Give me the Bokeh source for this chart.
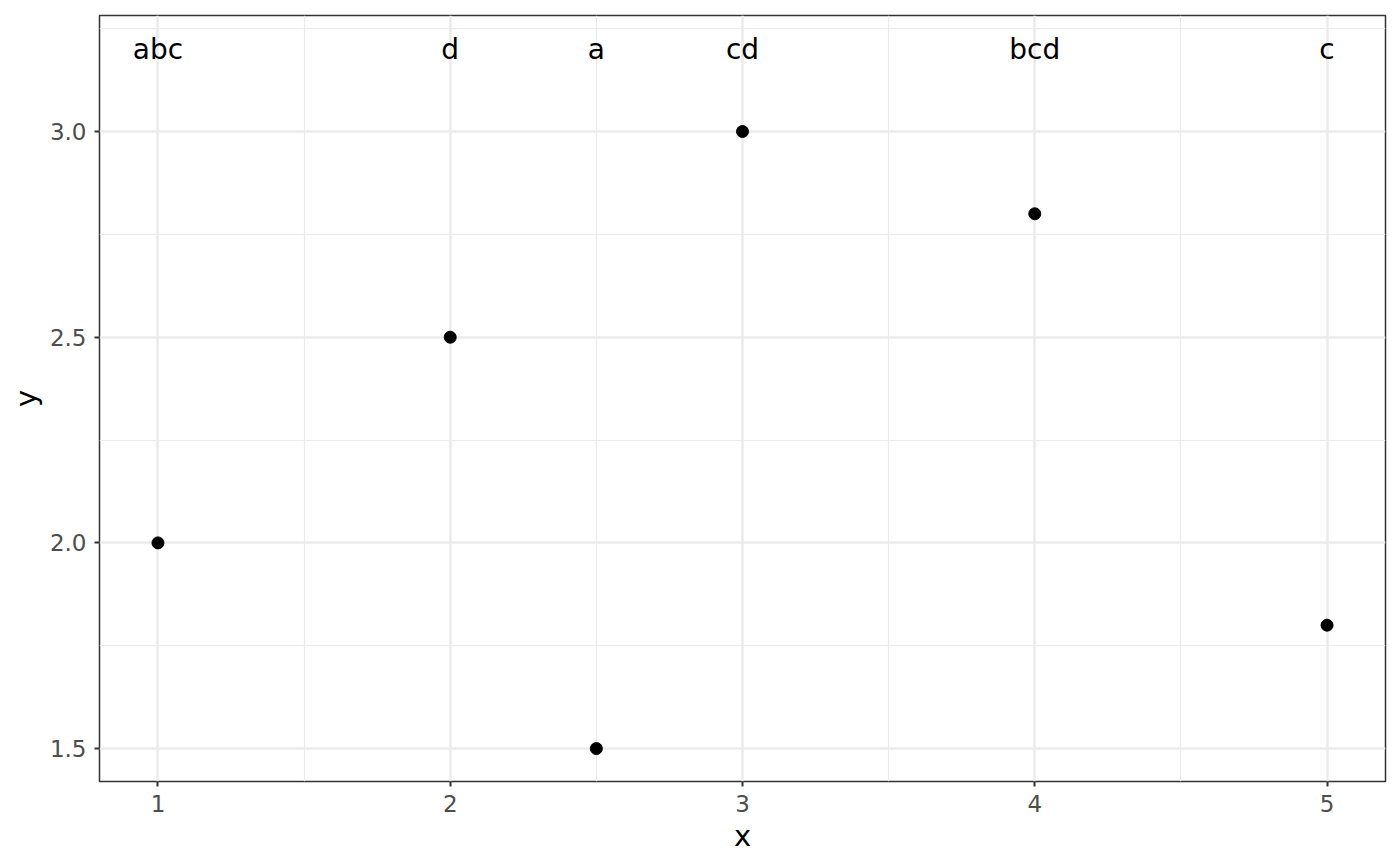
from bokeh.core.properties import value
from bokeh.embed import file_html
from bokeh.models import ColumnDataSource, FixedTicker, Range1d
from bokeh.plotting import figure
from bokeh.resources import INLINE


# data
x_values = [1, 2, 2.5, 3, 4, 5]
y_values = [2.0, 2.5, 1.5, 3.0, 2.8, 1.8]
group_labels = ["abc", "d", "a", "cd", "bcd", "c"]
label_y = 3.2

x_ticks = [1, 2, 3, 4, 5]
x_minor = [1.5, 2.5, 3.5, 4.5]
y_ticks = [1.5, 2.0, 2.5, 3.0]
y_minor = [1.75, 2.25, 2.75, 3.25]
y_tick_labels = {1.5: "1.5", 2.0: "2.0", 2.5: "2.5", 3.0: "3.0"}

FONT = "DejaVu Sans"
GRID = "#ebebeb"

points = ColumnDataSource(data=dict(x=x_values, y=y_values))
labels = ColumnDataSource(data=dict(x=x_values, y=[label_y] * len(x_values), text=group_labels))

# declare bokeh figure (ggplot theme_bw look)
p = figure(
    frame_width=1286,
    frame_height=766,
    min_border_left=99,
    min_border_right=7,
    min_border_top=15,
    min_border_bottom=77,
    x_range=Range1d(0.8, 5.2),
    y_range=Range1d(1.42, 3.282),
    x_axis_label="x",
    y_axis_label="y",
    output_backend="svg",
    toolbar_location=None,
    background_fill_color="white",
    border_fill_color="white",
)

p.outline_line_color = "#333333"
p.outline_line_width = 1.5

# ticks and grid
p.xaxis.ticker = FixedTicker(ticks=x_ticks, minor_ticks=x_minor)
p.yaxis.ticker = FixedTicker(ticks=y_ticks, minor_ticks=y_minor)
p.yaxis.major_label_overrides = y_tick_labels

for grid in (p.xgrid, p.ygrid):
    grid.grid_line_color = GRID
    grid.grid_line_width = 2.5
    grid.minor_grid_line_color = GRID
    grid.minor_grid_line_width = 1.2

for axis in (p.xaxis, p.yaxis):
    axis.axis_line_color = None
    axis.minor_tick_line_color = None
    axis.major_tick_line_color = "#333333"
    axis.major_tick_line_width = 2
    axis.major_tick_out = 5
    axis.major_tick_in = 0
    axis.major_label_text_font = FONT
    axis.major_label_text_font_size = "23px"
    axis.major_label_text_color = "#4d4d4d"
    axis.major_label_standoff = 8
    axis.axis_label_text_font = FONT
    axis.axis_label_text_font_size = "29px"
    axis.axis_label_text_font_style = "normal"
    axis.axis_label_text_color = "black"
    axis.axis_label_standoff = 4

# points
p.scatter("x", "y", source=points, size=12, color="black")

# group letters on top
p.text(
    "x", "y", text="text", source=labels,
    text_font=value(FONT), text_font_size="28px",
    text_align="center", text_baseline="middle", text_color="black",
)

open("out.html", "w").write(file_html(p, INLINE))
